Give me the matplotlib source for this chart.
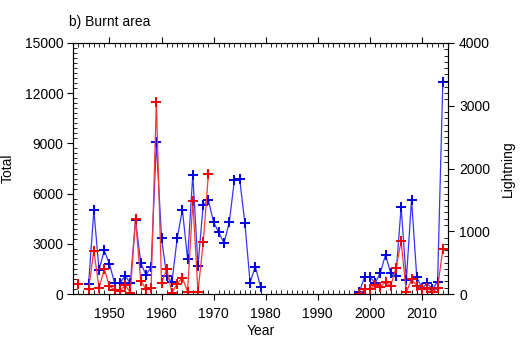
import numpy as np
import matplotlib
matplotlib.use("Agg")
import matplotlib.pyplot as plt
from matplotlib.ticker import MultipleLocator

plt.rcParams['font.family'] = ['Liberation Sans', 'DejaVu Sans']

# Total burnt area (left axis)
total_years = list(range(1946, 1980)) + [np.nan] + list(range(1998, 2015))
total_vals = [620, 5000, 1440, 2600, 1800, 640, 640, 1100, 640, 4420,
              1880, 1140, 1600, 9060, 3320, 1080, 720, 3320, 5040, 2080,
              7120, 1680, 5330, 5600, 4280, 3680, 3040, 4280, 6840, 6880,
              4240, 680, 1640, 440,
              np.nan,
              140, 1040, 1040, 640, 1260, 2340, 1240, 1100, 5200, 840,
              5640, 1020, 340, 640, 280, 740, 12640]

# Lightning burnt area (right axis)
light_years = [1944, 1945] + list(range(1946, 1970)) + [np.nan] + list(range(1998, 2015))
light_vals = [155, np.nan,
              78, 693, 96, 395, 128, 64, 43, 144, 21, 1190,
              213, 80, 91, 3061, 181, 395, 21, 160, 261, 37,
              1477, 37, 821, 1909,
              np.nan,
              5, 75, 75, 144, 117, 187, 133, 411, 837, 27,
              235, 133, 75, 91, 37, 91, 715]

fig = plt.figure(figsize=(5.21, 3.59), dpi=100)
ax = fig.add_axes([73 / 521, 1 - 294 / 359, 375 / 521, 251 / 359])
ax2 = ax.twinx()

ax.plot(total_years, total_vals, color='#3535ff', lw=0.9,
        marker='+', ms=7.5, mew=1.4, mec='#0000e0')
ax2.plot(light_years, light_vals, color='#ff3535', lw=0.9,
         marker='+', ms=7.5, mew=1.4, mec='#f00000')

ax.set_xlim(1943, 2015)
ax.set_ylim(0, 15000)
ax2.set_ylim(0, 4000)

ax.xaxis.set_major_locator(MultipleLocator(10))
ax.xaxis.set_minor_locator(MultipleLocator(1))
ax.yaxis.set_major_locator(MultipleLocator(3000))
ax.yaxis.set_minor_locator(MultipleLocator(300))
ax2.yaxis.set_major_locator(MultipleLocator(1000))
ax2.yaxis.set_minor_locator(MultipleLocator(100))

fs = 10
ax.tick_params(which='major', direction='out', length=4, width=0.8,
               top=True, right=False, labelsize=fs, pad=3)
ax.tick_params(axis='x', which='major', pad=5.5)
ax.tick_params(which='minor', direction='in', length=3, width=0.6,
               top=True, right=False)
ax2.tick_params(which='major', direction='out', length=4, width=0.8,
                labelsize=fs, pad=4)
ax2.tick_params(which='minor', direction='in', length=3, width=0.6)

for a in (ax, ax2):
    for s in a.spines.values():
        s.set_linewidth(0.8)

ax.set_xlabel("Year", fontsize=fs, labelpad=2)
ax.set_ylabel("Total", fontsize=fs, labelpad=7)
ax2.set_ylabel("Lightning", fontsize=fs, labelpad=8)
fig.text(69 / 521, 1 - 22 / 359, "b) Burnt area", fontsize=fs,
         va='center', ha='left')

fig.savefig("out.png", dpi=100)
